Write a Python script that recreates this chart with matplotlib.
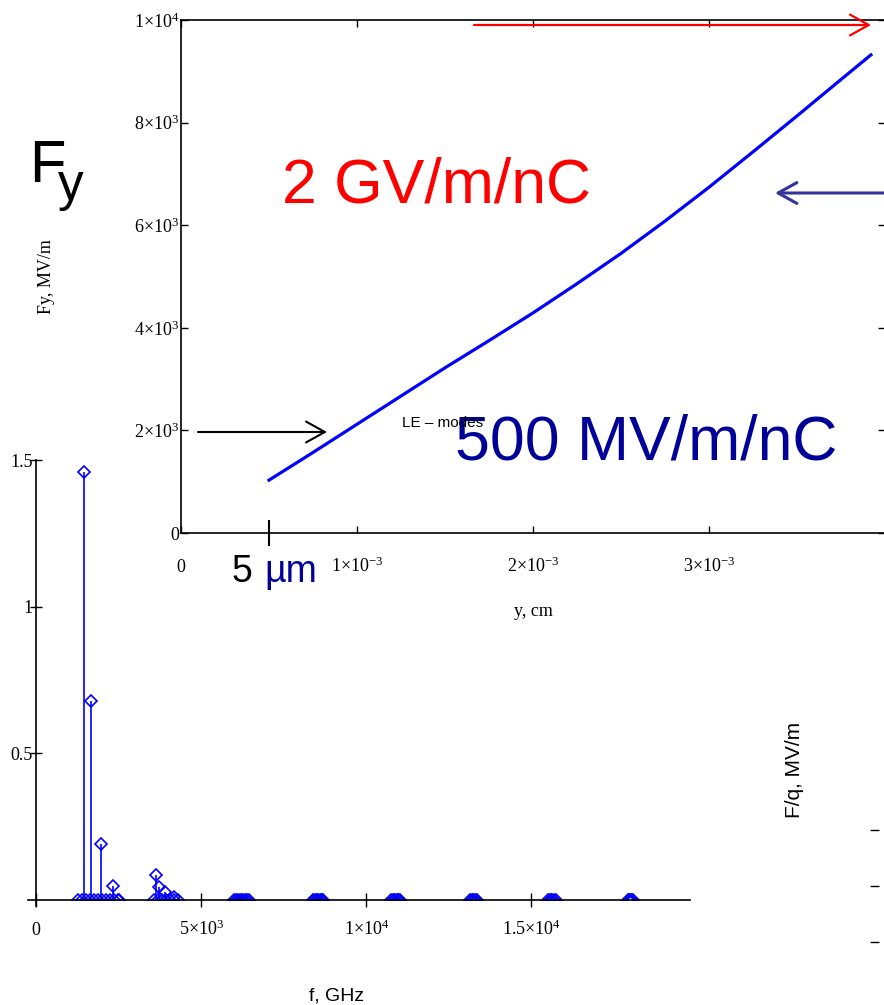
#Fy vs y (top) and mode spectrum (bottom), Mathcad style

import numpy as np
import matplotlib
matplotlib.use('Agg')
import matplotlib.pyplot as plt
from matplotlib.ticker import FixedLocator

plt.rcParams['font.family'] = 'Liberation Serif'
plt.rcParams['mathtext.fontset'] = 'custom'
plt.rcParams['mathtext.rm'] = 'Liberation Serif'
plt.rcParams['mathtext.it'] = 'Liberation Serif:italic'

#top curve: transverse force vs offset
y_cm = [5.0e-4, 7.5e-4, 1.0e-3, 1.25e-3, 1.5e-3, 1.75e-3, 2.0e-3, 2.25e-3,
        2.5e-3, 2.75e-3, 3.0e-3, 3.25e-3, 3.5e-3, 3.75e-3, 3.92e-3]
fy_mv = [1030, 1570, 2120, 2670, 3220, 3750, 4290, 4860,
         5450, 6080, 6740, 7430, 8130, 8840, 9320]

y_ticks = [0, 1e-3, 2e-3, 3e-3]
y_ticklabels = ['0', r'$1{\times}10^{-3}$', r'$2{\times}10^{-3}$', r'$3{\times}10^{-3}$']
fy_ticks = [0, 2000, 4000, 6000, 8000, 10000]
fy_ticklabels = ['0', r'$2{\times}10^{3}$', r'$4{\times}10^{3}$', r'$6{\times}10^{3}$',
                 r'$8{\times}10^{3}$', r'$1{\times}10^{4}$']

#bottom spectrum: modes with visible amplitude
f_peaks = [1464, 1667, 1979, 2342, 3645, 3727, 3918, 4172]
a_peaks = [1.46, 0.68, 0.19, 0.048, 0.085, 0.045, 0.027, 0.01]
#modes sitting on zero, grouped by band
band1 = [1270, 1390, 1510, 1630, 1750, 1870, 1990, 2110, 2230, 2350, 2470, 2510]
band2 = [3580, 3700, 3820, 3940, 4060, 4180, 4300]
band3 = [6000, 6050, 6100, 6150, 6200, 6250, 6300, 6350, 6400, 6450]
band4 = [8390, 8430, 8470, 8510, 8550, 8590, 8630, 8670, 8700]
band5 = [10760, 10800, 10840, 10880, 10920, 10960, 11000, 11030]
band6 = [13150, 13190, 13230, 13270, 13310, 13360]
band7 = [15510, 15550, 15590, 15630, 15670, 15730]
band8 = [17910, 17940, 17970, 18000, 18030, 18060]

f_ticks = [0, 5000, 10000, 15000]
f_ticklabels = ['0', r'$5{\times}10^{3}$', r'$1{\times}10^{4}$', r'$1.5{\times}10^{4}$']
a_ticks = [0.5, 1, 1.5]
a_ticklabels = ['0.5', '1', '1.5']

W, H = 884, 1005
def fx(px):
	return px / W
def fy(py):
	return 1 - py / H

fig = plt.figure(figsize=(W / 100, H / 100), dpi=100)
blue = '#0000ff'
dark_blue = '#000099'

#top plot
ax1 = fig.add_axes([fx(181), fy(533), fx(885) - fx(181), fy(20) - fy(533)])
ax1.set_facecolor('none')
ax1.plot(y_cm, fy_mv, color=blue, lw=2.3)
ax1.set_xlim(0, 4e-3)
ax1.set_ylim(0, 1e4)
ax1.set_xticks(y_ticks)
ax1.set_xticklabels(y_ticklabels, va='baseline')
ax1.set_yticks(fy_ticks)
ax1.set_yticklabels(fy_ticklabels)
ax1.tick_params(direction='in', top=True, right=True, length=5, width=1, labelsize=13)
ax1.tick_params(axis='x', pad=28)
ax1.tick_params(axis='y', pad=1)
ax1.xaxis.set_minor_locator(FixedLocator([5e-4]))
ax1.tick_params(which='minor', axis='x', direction='inout', length=19, width=1.5, top=False)
for s in ax1.spines.values():
	s.set_linewidth(1.2)
ax1.set_ylabel('Fy, MV/m', fontsize=13)
ax1.yaxis.set_label_coords(-0.179, 0.5)
ax1.set_xlabel('y, cm', fontsize=13)
ax1.xaxis.set_label_coords(0.5, -0.136)

#bottom plot
ax2 = fig.add_axes([fx(36), fy(900), fx(690) - fx(36), fy(460) - fy(900)])
ax2.set_facecolor('none')
ax2.vlines(f_peaks, 0, a_peaks, color=blue, lw=1.2)
zero_f = band1 + band2 + band3 + band4 + band5 + band6 + band7 + band8
ax2.plot(f_peaks, a_peaks, 'D', ms=6, mfc='none', mec=blue, mew=1.2)
ax2.plot(zero_f, np.zeros(len(zero_f)), 'D', ms=6.5, mfc='none', mec=blue, mew=1.2)
ax2.set_xlim(0, 19800)
ax2.set_ylim(0, 1.5)
ax2.spines['top'].set_visible(False)
ax2.spines['right'].set_visible(False)
ax2.spines['bottom'].set_bounds(-250, 19800)
ax2.spines['left'].set_bounds(-0.02, 1.5)
for s in ax2.spines.values():
	s.set_linewidth(1.2)
ax2.set_xticks(f_ticks)
ax2.set_xticklabels(f_ticklabels, va='baseline')
ax2.set_yticks(a_ticks)
ax2.set_yticklabels(a_ticklabels)
ax2.tick_params(direction='inout', labelsize=13, width=1)
ax2.tick_params(axis='x', length=10, pad=20)
ax2.tick_params(axis='y', length=8.6, pad=-2)
fig.text(fx(337), fy(1000), 'f, GHz', family='Liberation Sans', fontsize=14,
	ha='center', va='baseline')

#right plot, mostly cut off
ax3 = fig.add_axes([fx(879), fy(992), 0.05, fy(547) - fy(992)])
ax3.set_facecolor('none')
for s in ax3.spines.values():
	s.set_visible(False)
ax3.set_ylim(-0.89, 7.06)
ax3.set_yticks([0, 1, 2])
ax3.set_yticklabels([])
ax3.set_xticks([])
ax3.tick_params(axis='y', direction='out', length=6.5, width=1)
ax3.set_ylabel('F/q, MV/m', family='Liberation Sans', fontsize=15)
ax3.yaxis.set_label_coords(-1.7, 0.5)

#annotations
fig.text(fx(29), fy(182), 'F', family='Liberation Sans', fontsize=43, va='baseline')
fig.text(fx(58), fy(200), 'y', family='Liberation Sans', fontsize=37, va='baseline')
fig.text(fx(282), fy(202), '2 GV/m/nC', family='Liberation Sans', fontsize=45,
	color='#ff0000', va='baseline')
fig.text(fx(455), fy(459), '500 MV/m/nC', family='Liberation Sans', fontsize=45,
	color=dark_blue, va='baseline')
fig.text(fx(402), fy(427), 'LE \u2013 modes', family='Liberation Sans', fontsize=11,
	va='baseline')
fig.text(fx(232), fy(582), '5 ', family='Liberation Sans', fontsize=27, va='baseline')
fig.text(fx(264), fy(582), '\u00b5m', family='Liberation Sans', fontsize=27,
	color=dark_blue, va='baseline')

arrow_style = '->,head_length=0.45,head_width=0.25'
fig.add_artist(matplotlib.patches.FancyArrowPatch(
	(fx(474), fy(25)), (fx(871), fy(25)), transform=fig.transFigure,
	arrowstyle=arrow_style, mutation_scale=30, color='#ff0000', lw=1.6,
	shrinkA=0, shrinkB=0))
fig.add_artist(matplotlib.patches.FancyArrowPatch(
	(fx(900), fy(193)), (fx(775), fy(193)), transform=fig.transFigure,
	arrowstyle=arrow_style, mutation_scale=30, color='#333399', lw=2.2,
	shrinkA=0, shrinkB=0))
fig.add_artist(matplotlib.patches.FancyArrowPatch(
	(fx(198), fy(432)), (fx(327), fy(432)), transform=fig.transFigure,
	arrowstyle=arrow_style, mutation_scale=30, color='black', lw=1.5,
	shrinkA=0, shrinkB=0))

fig.savefig('out.png', dpi=100)
